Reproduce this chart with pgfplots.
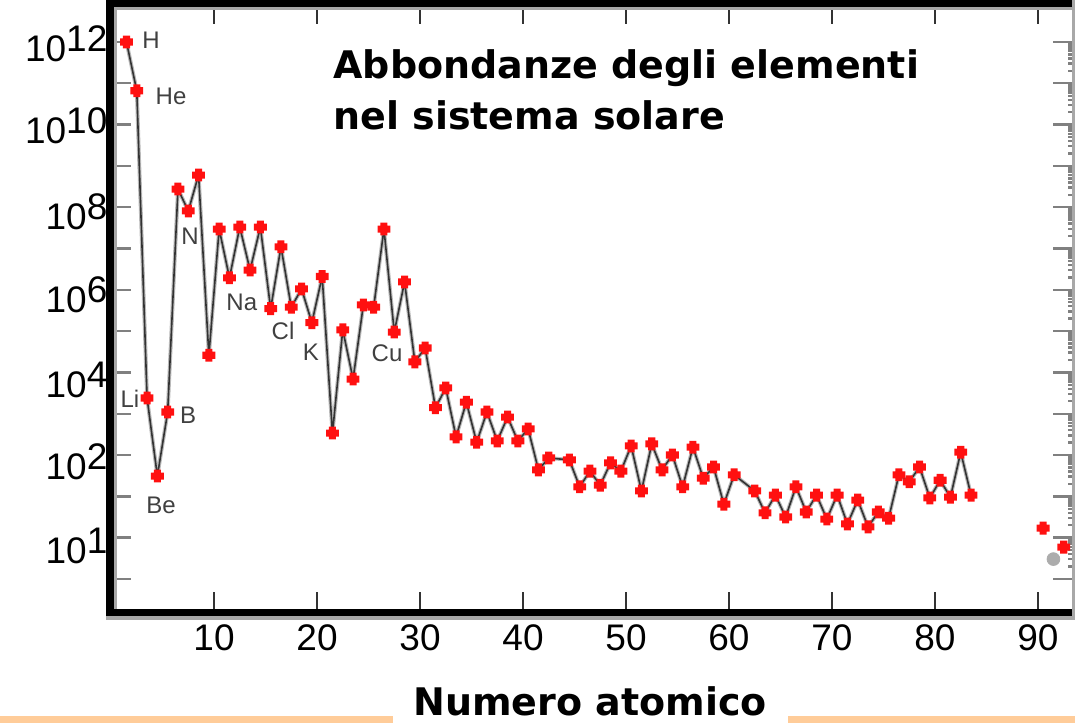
\documentclass[border=0pt]{standalone}
\usepackage{fontspec}
\setmainfont{Liberation Sans}
\newfontfamily\titlefont{DejaVu Sans}
\usepackage{pgfplots}
\usepackage{pgfplotstable}
\pgfplotsset{compat=1.18}
\definecolor{mkred}{RGB}{255,16,16}
\definecolor{orangeline}{RGB}{255,204,153}
\definecolor{framegray}{RGB}{168,168,168}
\newcommand\tickfont{\fontsize{18.5}{18.5}\selectfont}

\pgfdeclareplotmark{fatplus}{%
 \pgfpathmoveto{\pgfpoint{-0.55\pgfplotmarksize}{\pgfplotmarksize}}%
 \pgfpathlineto{\pgfpoint{0.55\pgfplotmarksize}{\pgfplotmarksize}}%
 \pgfpathlineto{\pgfpoint{0.55\pgfplotmarksize}{0.55\pgfplotmarksize}}%
 \pgfpathlineto{\pgfpoint{\pgfplotmarksize}{0.55\pgfplotmarksize}}%
 \pgfpathlineto{\pgfpoint{\pgfplotmarksize}{-0.55\pgfplotmarksize}}%
 \pgfpathlineto{\pgfpoint{0.55\pgfplotmarksize}{-0.55\pgfplotmarksize}}%
 \pgfpathlineto{\pgfpoint{0.55\pgfplotmarksize}{-\pgfplotmarksize}}%
 \pgfpathlineto{\pgfpoint{-0.55\pgfplotmarksize}{-\pgfplotmarksize}}%
 \pgfpathlineto{\pgfpoint{-0.55\pgfplotmarksize}{-0.55\pgfplotmarksize}}%
 \pgfpathlineto{\pgfpoint{-\pgfplotmarksize}{-0.55\pgfplotmarksize}}%
 \pgfpathlineto{\pgfpoint{-\pgfplotmarksize}{0.55\pgfplotmarksize}}%
 \pgfpathlineto{\pgfpoint{-0.55\pgfplotmarksize}{0.55\pgfplotmarksize}}%
 \pgfpathclose
 \pgfusepathqfill}

% Z = atomic number, V = abundance (H = 10^12)
\pgfplotstableread{
Z V
1 1.0e12
2 6.6e10
3 2.4e3
4 31
5 1.1e3
6 2.75e8
7 8.1e7
8 6.0e8
9 2.6e4
10 2.95e7
11 1.95e6
12 3.3e7
13 3.0e6
14 3.3e7
15 3.5e5
16 1.1e7
17 3.8e5
18 1.05e6
19 1.6e5
20 2.1e6
21 340
22 1.07e5
23 6.9e3
24 4.3e5
25 3.8e5
26 2.95e7
27 9.5e4
28 1.55e6
29 1.8e4
30 3.9e4
31 1.4e3
32 4.2e3
33 275
34 1.9e3
35 204
36 1.1e3
37 219
38 830
39 219
40 427
41 43.7
42 85
44 76
45 17
46 40.7
47 18.6
48 64.6
49 40.7
50 166
51 13.5
52 186
53 43.7
54 100
55 17
56 155
57 27.5
58 51.3
59 6.46
60 33.1
62 13.5
63 3.98
64 10.7
65 3.16
66 17
67 4.17
68 10.7
69 2.82
70 10.7
71 2.14
72 8.13
73 1.82
74 4.17
75 2.95
76 33.1
77 22.4
78 51.3
79 9.12
80 24.5
81 9.55
82 117
83 10.7
}\abund

\pgfplotstableread{
Z V
90 1.70
92 0.589
}\heavy

\pgfplotstableread{
Z V
91 0.302
}\grayp

\begin{document}
\begin{tikzpicture}
\useasboundingbox (0,0) rectangle (537.5pt,361.5pt);
\begin{axis}[
  at={(55pt,55.25pt)}, anchor=south west,
  scale only axis, width=481.75pt, height=304.5pt,
  xmin=-0.1, xmax=93.45,
  ymode=log, ymin=0.01538, ymax=8.55e12,
  axis line style={draw=none},
  tick align=inside,
  major tick length=10.5pt,
  minor tick num=0,
  xtick={10,20,30,40,50,60,70,80,90},
  xticklabels={10,20,30,40,50,60,70,80,90},
  xticklabel style={font=\tickfont, yshift=-2.5pt},
  xtick style={color=black!80, line width=1pt},
  ytick={1e-1,1,1e1,1e2,1e3,1e4,1e5,1e6,1e7,1e8,1e9,1e10,1e11,1e12},
  yticklabels={},
  ytick style={color=gray, line width=1.2pt},
  extra y ticks={8.91e11,9.33e9,7.94e7,7.41e5,6.61e3,67.6,0.646},
  extra y tick labels={10\raisebox{5pt}{12},10\raisebox{5pt}{10},10\raisebox{5pt}{8},10\raisebox{5pt}{6},10\raisebox{5pt}{4},10\raisebox{5pt}{2},10\raisebox{5pt}{1}},
  extra y tick style={tick style={draw=none}},
  yticklabel style={font=\tickfont, xshift=2.2pt},
  clip=false,
]
\addplot[gray!55, line width=1.9pt, line join=round, no marks] table[x expr=\thisrow{Z}+0.5, y=V]{\abund};
\addplot[black!80, line width=0.8pt, line join=round, mark=fatplus, mark size=3.2pt,
  mark options={fill=mkred, draw=none}] table[x expr=\thisrow{Z}+0.5, y=V]{\abund};
\addplot[only marks, mark=fatplus, mark size=3.2pt, mark options={fill=mkred, draw=none}]
  table[x expr=\thisrow{Z}+0.5, y=V]{\heavy};
\addplot[only marks, color=gray!65, mark=*, mark size=3.2pt, mark options={fill=gray!65, draw=gray!65}]
  table[x expr=\thisrow{Z}+0.5, y=V]{\grayp};

\begin{scope}[every node/.style={font=\fontsize{12}{12}\selectfont, text=black!75, inner sep=0pt}]
\node at (axis cs:3.88,1.12e12) {H};
\node at (axis cs:5.83,4.7e10) {He};
\node at (axis cs:1.84,2.3e3) {Li};
\node at (axis cs:4.85,6.2) {Be};
\node at (axis cs:7.48,930) {B};
\node at (axis cs:7.67,2.0e7) {N};
\node at (axis cs:12.7,5.0e5) {Na};
\node at (axis cs:16.7,1.0e5) {Cl};
\node at (axis cs:19.4,3.1e4) {K};
\node at (axis cs:26.8,2.95e4) {Cu};
\end{scope}
\end{axis}

% frame
\fill[black] (53pt,53.5pt) rectangle (57pt,361.5pt);
\fill[framegray] (57pt,57pt) rectangle (58.5pt,358pt);
\fill[black] (53pt,358pt) rectangle (537.5pt,361.5pt);
\fill[framegray] (57pt,356.5pt) rectangle (536pt,358pt);
\fill[black] (53pt,53.5pt) rectangle (537.5pt,57pt);
\fill[framegray] (53pt,51.5pt) rectangle (537.5pt,53.5pt);
\fill[framegray] (536pt,51.5pt) rectangle (537.5pt,361.5pt);

% title
\node[anchor=base west, inner sep=0pt, font=\titlefont\bfseries\fontsize{19}{19}\selectfont]
  at (166.5pt,322.35pt) {Abbondanze degli elementi};
\node[anchor=base west, inner sep=0pt, font=\titlefont\bfseries\fontsize{19}{19}\selectfont]
  at (166.5pt,296.5pt) {nel sistema solare};

% x label with decorative lines
\fill[orangeline] (0pt,0pt) rectangle (196.5pt,3.5pt);
\fill[orangeline] (394pt,0pt) rectangle (537.5pt,3.5pt);
\node[anchor=base, inner sep=0pt, font=\titlefont\bfseries\fontsize{19}{19}\selectfont]
  at (295pt,4pt) {Numero atomico};
\end{tikzpicture}
\end{document}
